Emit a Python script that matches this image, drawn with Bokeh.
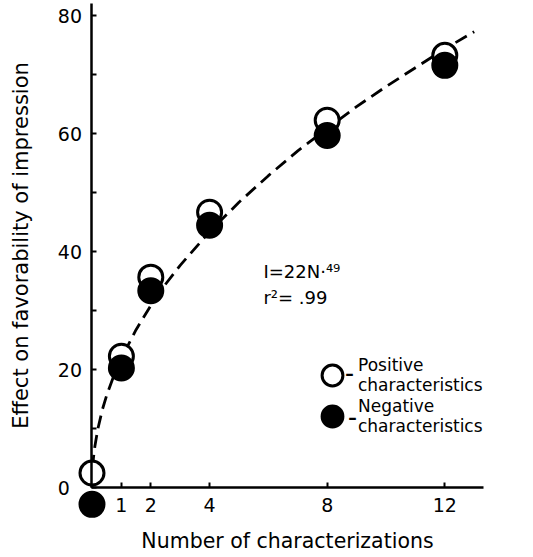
from bokeh.plotting import figure
from bokeh.models import Range1d, FixedTicker, Legend, LegendItem, Label
from bokeh.embed import file_html
from bokeh.resources import INLINE

# ---- data ----
n_characterizations = [0, 1, 2, 4, 8, 12]
positive_effect = [2.5, 22.3, 35.7, 46.7, 62.3, 73.3]
negative_effect = [-2.8, 20.3, 33.4, 44.5, 59.7, 71.6]

# dashed fitted curve (I = 22N^.49)
curve_n = [0, 0.02, 0.05, 0.1, 0.2, 0.35, 0.5, 0.75, 1, 1.5, 2, 2.5, 3, 4, 5, 6, 7, 8, 9, 10, 11, 12, 13]
curve_i = [0, 3.2, 5.1, 7.1, 10.0, 13.2, 15.7, 19.1, 22.0, 26.8, 30.9, 34.5, 37.7, 43.4, 48.4, 52.9,
           57.1, 60.9, 64.6, 68.0, 71.2, 74.4, 77.3]

x_ticks = [1, 2, 4, 8, 12]
y_ticks = [0, 20, 40, 60, 80]
y_minor_ticks = [10, 30, 50, 70]

x_label = "Number of characterizations"
y_label = "Effect on favorability of impression"
series_labels = ["Positive\ncharacteristics", "Negative\ncharacteristics"]
fit_text = "I=22N·⁴⁹"
r2_text = "r²= .99"

FONT = "DejaVu Sans"

p = figure(width=533, height=557, output_backend="svg", toolbar_location=None,
           title=None, min_border=0,
           x_range=Range1d(-3.112, 15.017), y_range=Range1d(-11.81, 82.59))
p.grid.visible = False
p.outline_line_color = None
p.background_fill_color = "white"
p.border_fill_color = "white"

xa = p.xaxis[0]
xa.fixed_location = 0
xa.bounds = (0, 13.3)
xa.ticker = FixedTicker(ticks=x_ticks)
xa.major_tick_in = 5
xa.major_tick_out = 0
xa.minor_tick_line_color = None
xa.axis_line_width = 2.5
xa.major_tick_line_width = 2
xa.major_label_text_font = FONT
xa.major_label_text_font_size = "19px"
xa.major_label_text_color = "black"
xa.major_label_standoff = 10
xa.axis_label = x_label
xa.axis_label_text_font = FONT
xa.axis_label_text_font_style = "normal"
xa.axis_label_text_font_size = "20.5px"
xa.axis_label_text_color = "black"
xa.axis_label_standoff = 14

ya = p.yaxis[0]
ya.fixed_location = 0
ya.bounds = (0, 82)
ya.ticker = FixedTicker(ticks=y_ticks, minor_ticks=y_minor_ticks)
ya.major_label_overrides = {0: "0\u2007"}
ya.major_tick_in = 5
ya.major_tick_out = 0
ya.minor_tick_in = 5
ya.minor_tick_out = 0
ya.axis_line_width = 2.5
ya.major_tick_line_width = 2
ya.minor_tick_line_width = 2
ya.major_label_text_font = FONT
ya.major_label_text_font_size = "19px"
ya.major_label_text_color = "black"
ya.major_label_standoff = 10
ya.axis_label = y_label
ya.axis_label_text_font = FONT
ya.axis_label_text_font_style = "normal"
ya.axis_label_text_font_size = "21px"
ya.axis_label_text_color = "black"
ya.axis_label_standoff = 21

p.line(curve_n, curve_i, line_color="black", line_width=2.8, line_dash="13 7")

r_pos = p.scatter(n_characterizations, positive_effect, marker="circle", size=24,
                  fill_color="white", line_color="black", line_width=3)
r_neg = p.scatter(n_characterizations, negative_effect, marker="circle", size=24,
                  fill_color="black", line_color="black", line_width=3)

def make_legend(label, renderer, loc):
    lg = Legend(items=[LegendItem(label=label, renderers=[renderer])], location=loc,
                glyph_width=52, glyph_height=52, label_standoff=0, padding=0, margin=0,
                spacing=0, border_line_color=None, background_fill_alpha=0,
                label_text_font=FONT, label_text_font_size="17px",
                label_text_line_height=1.15, label_text_color="black")
    p.add_layout(lg)

make_legend(series_labels[0], r_pos, (306, 156))
make_legend(series_labels[1], r_neg, (306, 115))

for (dx, dy) in [(8.76, 19.37), (8.86, 11.75)]:
    p.add_layout(Label(x=dx, y=dy, text="–", text_font=FONT, text_font_size="17px",
                       text_font_style="bold", text_align="center", text_baseline="middle",
                       text_color="black"))

p.add_layout(Label(x=5.83, y=36.7, text=fit_text, text_font=FONT, text_font_size="18px",
                   text_align="left", text_baseline="alphabetic", text_color="black"))
p.add_layout(Label(x=5.83, y=32.25, text=r2_text, text_font=FONT, text_font_size="18px",
                   text_align="left", text_baseline="alphabetic", text_color="black"))

open("out.html", "w").write(file_html(p, INLINE))
